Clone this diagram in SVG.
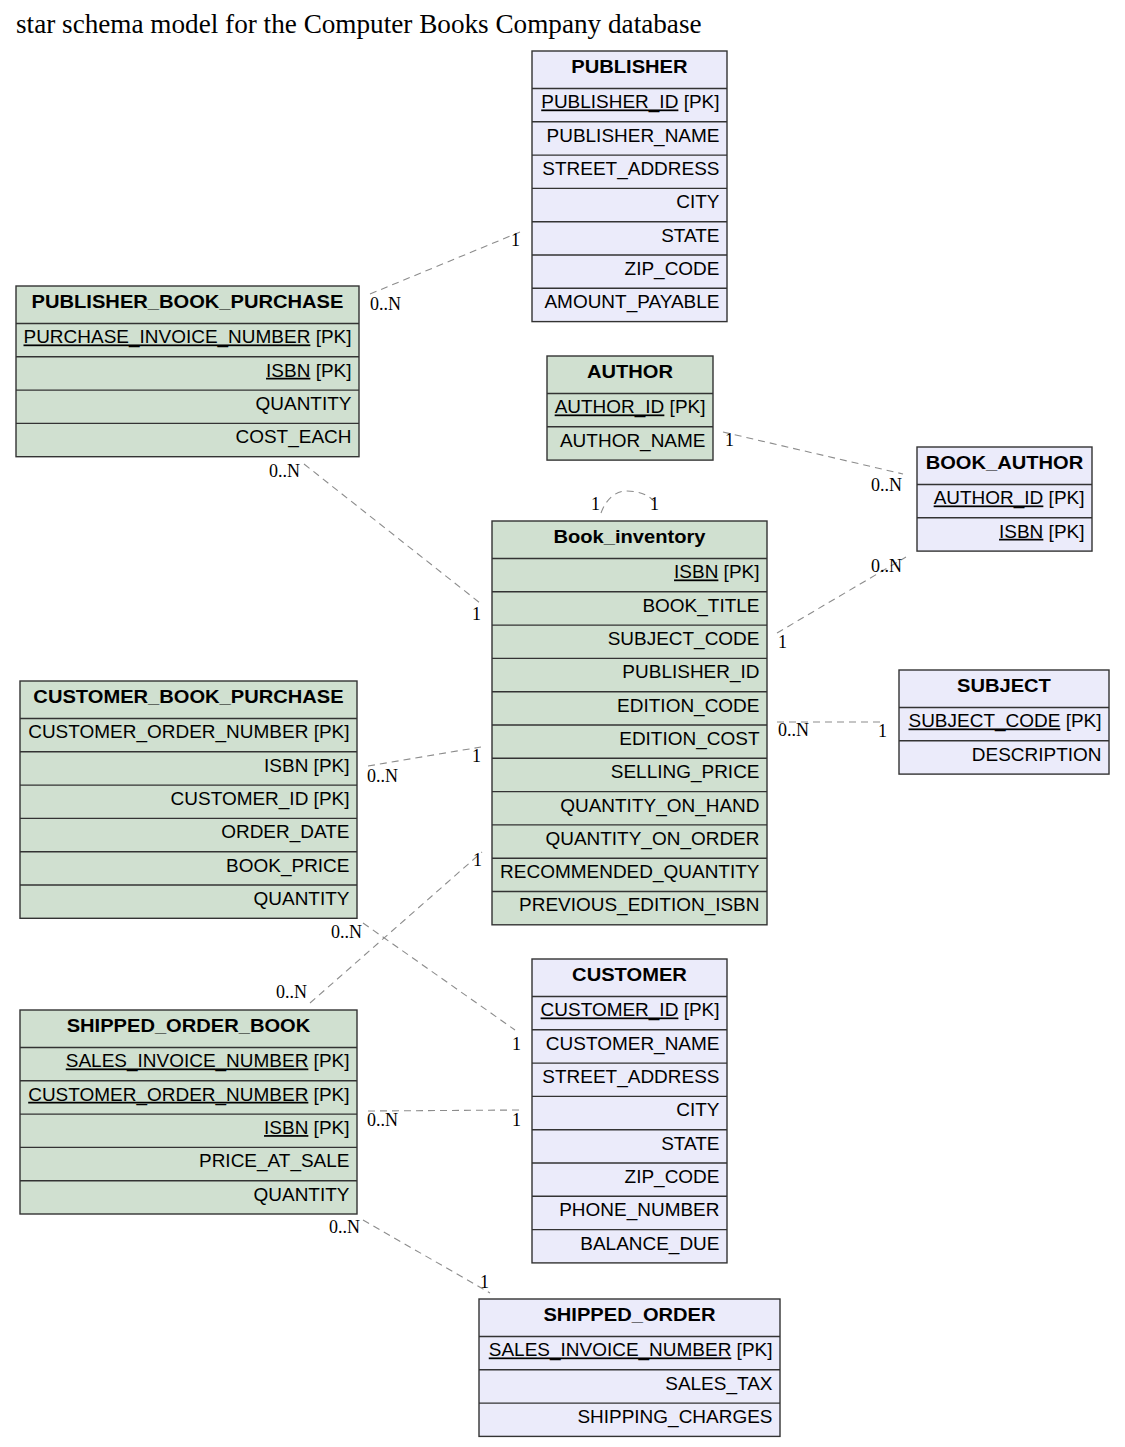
<svg xmlns="http://www.w3.org/2000/svg" width="1125" height="1447" viewBox="0 0 1125 1447">
<style>
.bg{fill:#ffffff}
.tg{fill:#d0e0d0;stroke:#333333;stroke-width:1.4}
.tl{fill:#ebebfa;stroke:#333333;stroke-width:1.4}
.sep{fill:none;stroke:#333333;stroke-width:1.4}
.h{font-family:"Liberation Sans",Arial,sans-serif;font-weight:bold;font-size:17.5px;fill:#000;text-anchor:middle;transform-box:fill-box;transform-origin:center;transform:scaleX(1.15)}
.r{font-family:"Liberation Sans",Arial,sans-serif;font-size:17.5px;fill:#000;text-anchor:end;transform-box:fill-box;transform-origin:right center;transform:scaleX(1.085)}
.rows{transform:translateY(-1.5px)}
.u{text-decoration:underline}
.title{font-family:"Liberation Serif","Times New Roman",serif;font-size:27.2px;fill:#000}
.lbl{font-family:"Liberation Serif","Times New Roman",serif;font-size:18px;fill:#000}
.c{fill:none;stroke:#8c8c8c;stroke-width:1.1;stroke-dasharray:7,5}
</style>
<rect class="bg" x="0" y="0" width="1125" height="1447"/>
<text class="title" x="16" y="33">star schema model for the Computer Books Company database</text>

<g id="connectors">
<path class="c" d="M370,294 L520,232"/>
<path class="c" d="M304,464 L480,603"/>
<path class="c" d="M723,432 L903,474"/>
<path class="c" d="M777,633 L906,557"/>
<path class="c" d="M777,722 L882,722"/>
<path class="c" d="M601,513 C607,497 617,491 627,491 C639,491 648,495 654,501"/>
<path class="c" d="M368,766 L481,747"/>
<path class="c" d="M310,1003 L482,852"/>
<path class="c" d="M363,923 L515,1030"/>
<path class="c" d="M368,1111 L520,1110"/>
<path class="c" d="M363,1220 L490,1293"/>
<text class="lbl" x="370" y="310">0..N</text>
<text class="lbl" x="511" y="246">1</text>
<text class="lbl" x="269" y="477">0..N</text>
<text class="lbl" x="472" y="620">1</text>
<text class="lbl" x="725" y="446">1</text>
<text class="lbl" x="871" y="491">0..N</text>
<text class="lbl" x="778" y="648">1</text>
<text class="lbl" x="871" y="572">0..N</text>
<text class="lbl" x="778" y="736">0..N</text>
<text class="lbl" x="878" y="737">1</text>
<text class="lbl" x="591" y="510">1</text>
<text class="lbl" x="650" y="510">1</text>
<text class="lbl" x="367" y="782">0..N</text>
<text class="lbl" x="472" y="762">1</text>
<text class="lbl" x="473" y="866">1</text>
<text class="lbl" x="276" y="998">0..N</text>
<text class="lbl" x="331" y="938">0..N</text>
<text class="lbl" x="512" y="1050">1</text>
<text class="lbl" x="367" y="1126">0..N</text>
<text class="lbl" x="512" y="1126">1</text>
<text class="lbl" x="329" y="1233">0..N</text>
<text class="lbl" x="480" y="1288">1</text>
</g>

<g id="PUBLISHER" transform="translate(532,51)">
<rect class="tl" x="0" y="0" width="195" height="270.6"/>
<path class="sep" d="M0,37.5H195M0,70.8H195M0,104.1H195M0,137.4H195M0,170.7H195M0,204H195M0,237.3H195"/>
<text class="h" x="97.5" y="22.5">PUBLISHER</text>
<text class="r" x="187.5" y="57.5"><tspan class="u">PUBLISHER_ID</tspan> [PK]</text>
<text class="r" x="187.5" y="90.8">PUBLISHER_NAME</text>
<text class="r" x="187.5" y="124.1">STREET_ADDRESS</text>
<text class="r" x="187.5" y="157.4">CITY</text>
<text class="r" x="187.5" y="190.7">STATE</text>
<text class="r" x="187.5" y="224">ZIP_CODE</text>
<text class="r" x="187.5" y="257.3">AMOUNT_PAYABLE</text>
</g>

<g id="PUBLISHER_BOOK_PURCHASE" transform="translate(16,286)">
<rect class="tg" x="0" y="0" width="343" height="170.7"/>
<path class="sep" d="M0,37.5H343M0,70.8H343M0,104.1H343M0,137.4H343"/>
<text class="h" x="171.5" y="22.5">PUBLISHER_BOOK_PURCHASE</text>
<text class="r" x="335.5" y="57.5"><tspan class="u">PURCHASE_INVOICE_NUMBER</tspan> [PK]</text>
<text class="r" x="335.5" y="90.8"><tspan class="u">ISBN</tspan> [PK]</text>
<text class="r" x="335.5" y="124.1">QUANTITY</text>
<text class="r" x="335.5" y="157.4">COST_EACH</text>
</g>

<g id="AUTHOR" transform="translate(547,356)">
<rect class="tg" x="0" y="0" width="166" height="104.1"/>
<path class="sep" d="M0,37.5H166M0,70.8H166"/>
<text class="h" x="83" y="22.5">AUTHOR</text>
<text class="r" x="158.5" y="57.5"><tspan class="u">AUTHOR_ID</tspan> [PK]</text>
<text class="r" x="158.5" y="90.8">AUTHOR_NAME</text>
</g>

<g id="BOOK_AUTHOR" transform="translate(917,447)">
<rect class="tl" x="0" y="0" width="175" height="104.1"/>
<path class="sep" d="M0,37.5H175M0,70.8H175"/>
<text class="h" x="87.5" y="22.5">BOOK_AUTHOR</text>
<text class="r" x="167.5" y="57.5"><tspan class="u">AUTHOR_ID</tspan> [PK]</text>
<text class="r" x="167.5" y="90.8"><tspan class="u">ISBN</tspan> [PK]</text>
</g>

<g id="Book_inventory" transform="translate(492,521)">
<rect class="tg" x="0" y="0" width="275" height="403.8"/>
<path class="sep" d="M0,37.5H275M0,70.8H275M0,104.1H275M0,137.4H275M0,170.7H275M0,204H275M0,237.3H275M0,270.6H275M0,303.9H275M0,337.2H275M0,370.5H275"/>
<text class="h" x="137.5" y="22.5">Book_inventory</text>
<text class="r" x="267.5" y="57.5"><tspan class="u">ISBN</tspan> [PK]</text>
<text class="r" x="267.5" y="90.8">BOOK_TITLE</text>
<text class="r" x="267.5" y="124.1">SUBJECT_CODE</text>
<text class="r" x="267.5" y="157.4">PUBLISHER_ID</text>
<text class="r" x="267.5" y="190.7">EDITION_CODE</text>
<text class="r" x="267.5" y="224">EDITION_COST</text>
<text class="r" x="267.5" y="257.3">SELLING_PRICE</text>
<text class="r" x="267.5" y="290.6">QUANTITY_ON_HAND</text>
<text class="r" x="267.5" y="323.9">QUANTITY_ON_ORDER</text>
<text class="r" x="267.5" y="357.2">RECOMMENDED_QUANTITY</text>
<text class="r" x="267.5" y="390.5">PREVIOUS_EDITION_ISBN</text>
</g>

<g id="SUBJECT" transform="translate(899,670)">
<rect class="tl" x="0" y="0" width="210" height="104.1"/>
<path class="sep" d="M0,37.5H210M0,70.8H210"/>
<text class="h" x="105" y="22.5">SUBJECT</text>
<text class="r" x="202.5" y="57.5"><tspan class="u">SUBJECT_CODE</tspan> [PK]</text>
<text class="r" x="202.5" y="90.8">DESCRIPTION</text>
</g>

<g id="CUSTOMER_BOOK_PURCHASE" transform="translate(20,681)">
<rect class="tg" x="0" y="0" width="337" height="237.3"/>
<path class="sep" d="M0,37.5H337M0,70.8H337M0,104.1H337M0,137.4H337M0,170.7H337M0,204H337"/>
<text class="h" x="168.5" y="22.5">CUSTOMER_BOOK_PURCHASE</text>
<text class="r" x="329.5" y="57.5">CUSTOMER_ORDER_NUMBER [PK]</text>
<text class="r" x="329.5" y="90.8">ISBN [PK]</text>
<text class="r" x="329.5" y="124.1">CUSTOMER_ID [PK]</text>
<text class="r" x="329.5" y="157.4">ORDER_DATE</text>
<text class="r" x="329.5" y="190.7">BOOK_PRICE</text>
<text class="r" x="329.5" y="224">QUANTITY</text>
</g>

<g id="SHIPPED_ORDER_BOOK" transform="translate(20,1010)">
<rect class="tg" x="0" y="0" width="337" height="204"/>
<path class="sep" d="M0,37.5H337M0,70.8H337M0,104.1H337M0,137.4H337M0,170.7H337"/>
<text class="h" x="168.5" y="22.5">SHIPPED_ORDER_BOOK</text>
<text class="r" x="329.5" y="57.5"><tspan class="u">SALES_INVOICE_NUMBER</tspan> [PK]</text>
<text class="r" x="329.5" y="90.8"><tspan class="u">CUSTOMER_ORDER_NUMBER</tspan> [PK]</text>
<text class="r" x="329.5" y="124.1"><tspan class="u">ISBN</tspan> [PK]</text>
<text class="r" x="329.5" y="157.4">PRICE_AT_SALE</text>
<text class="r" x="329.5" y="190.7">QUANTITY</text>
</g>

<g id="CUSTOMER" transform="translate(532,959)">
<rect class="tl" x="0" y="0" width="195" height="303.9"/>
<path class="sep" d="M0,37.5H195M0,70.8H195M0,104.1H195M0,137.4H195M0,170.7H195M0,204H195M0,237.3H195M0,270.6H195"/>
<text class="h" x="97.5" y="22.5">CUSTOMER</text>
<text class="r" x="187.5" y="57.5"><tspan class="u">CUSTOMER_ID</tspan> [PK]</text>
<text class="r" x="187.5" y="90.8">CUSTOMER_NAME</text>
<text class="r" x="187.5" y="124.1">STREET_ADDRESS</text>
<text class="r" x="187.5" y="157.4">CITY</text>
<text class="r" x="187.5" y="190.7">STATE</text>
<text class="r" x="187.5" y="224">ZIP_CODE</text>
<text class="r" x="187.5" y="257.3">PHONE_NUMBER</text>
<text class="r" x="187.5" y="290.6">BALANCE_DUE</text>
</g>

<g id="SHIPPED_ORDER" transform="translate(479,1299)">
<rect class="tl" x="0" y="0" width="301" height="137.4"/>
<path class="sep" d="M0,37.5H301M0,70.8H301M0,104.1H301"/>
<text class="h" x="150.5" y="22.5">SHIPPED_ORDER</text>
<text class="r" x="293.5" y="57.5"><tspan class="u">SALES_INVOICE_NUMBER</tspan> [PK]</text>
<text class="r" x="293.5" y="90.8">SALES_TAX</text>
<text class="r" x="293.5" y="124.1">SHIPPING_CHARGES</text>
</g>
</svg>
